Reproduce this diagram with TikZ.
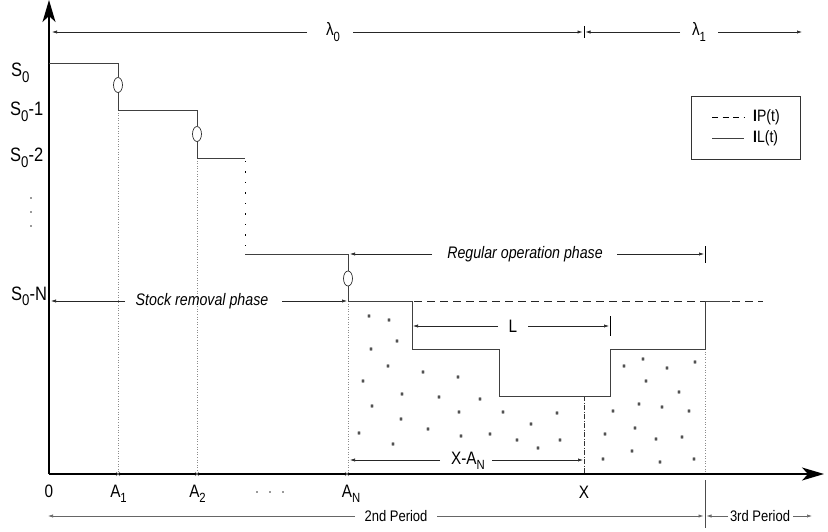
\documentclass[tikz,border=0pt]{standalone}
\usepackage{fontspec}
\setmainfont{Liberation Sans}[FakeStretch=0.85]
\usetikzlibrary{arrows.meta}
\newcommand\lowsub[1]{\raisebox{-0.3em}{\scalebox{0.74}{#1}}}
\newcommand\bigsub[1]{\raisebox{-0.28em}{\scalebox{0.8}{#1}}}
\begin{document}
\begin{tikzpicture}[x=1pt,y=-1pt,
  dim/.style={-{Latex[length=5pt,width=3.2pt]}, line width=0.6pt, draw=black!85},
  perarrow/.style={-{Latex[length=5pt,width=3.2pt]}, line width=0.6pt, draw=black!60},
  stepline/.style={line width=0.9pt, draw=black!75},
  ipline/.style={line width=0.9pt, draw=black!85, dash pattern=on 8pt off 5pt},
  guide/.style={line width=0.6pt, draw=black!45, dash pattern=on 1pt off 1.6pt},
  axis/.style={line width=1.4pt, draw=black, -{Stealth[length=22pt,width=13pt,inset=6pt]}},
  axislabel/.style={font=\fontsize{18}{19}\selectfont, inner sep=0pt},
  slabel/.style={font=\fontsize{19.4}{20}\selectfont, inner sep=0pt, anchor=base west},
  phase/.style={font=\fontsize{16.7}{17}\selectfont\itshape, inner sep=0pt},
  period/.style={font=\fontsize{15.3}{16}\selectfont, inner sep=0pt},
  legtext/.style={font=\fontsize{16.5}{17}\selectfont, inner sep=0pt, anchor=west},
  oval/.style={line width=0.7pt, draw=black!80},
  ast/.pic={\draw[black!68, line width=0.9pt] (-1.7,0) -- (1.7,0) (-0.9,-1.5) -- (0.9,1.5) (-0.9,1.5) -- (0.9,-1.5);},
  xtick/.pic={\draw[black!55, line width=0.5pt] (-2,-2) -- (2,2) (-2,2) -- (2,-2);}
]
\useasboundingbox (0,0) rectangle (828,532);

% stars
\foreach \p in {(369,316),(389,320),(397,341),(371,349),(388,366),(423,372),(363,381),(458,377),
  (402,394),(439,397),(372,406),(459,412),(401,419),(428,429),(359,433),(461,436),(393,444),
  (480,399),(503,412),(557,413),(531,424),(490,434),(517,440),(560,440),(538,448),
  (643,359),(624,366),(667,368),(695,362),(646,381),(679,392),(639,404),(662,407),(613,411),
  (689,411),(635,428),(605,434),(656,439),(682,437),(632,451),(603,459),(660,462),(694,459)}
  \pic at \p {ast};

% guides
\draw[guide] (118,110) -- (118,474);
\draw[guide] (197,158) -- (197,474);
\draw[guide] (348,301) -- (348,474);
\draw[guide] (705,349) -- (705,474);
\draw[line width=0.6pt, draw=black!80, dash pattern=on 5pt off 1.5pt on 1pt off 1.5pt] (584,396) -- (584,474);

% axes
\draw[axis] (49,474) -- (49,0);
\draw[axis] (49,474) -- (824,474);

% step curve L(t)
\draw[stepline] (49,63) -- (118,63) -- (118,77.5);
\draw[stepline] (118,92.5) -- (118,110) -- (197,110) -- (197,126.5);
\draw[stepline] (197,141.5) -- (197,158) -- (245,158);
\draw[black, line width=1pt, dash pattern=on 1.2pt off 9.3pt] (245,161) -- (245,254);
\draw[stepline] (245,254) -- (348,254) -- (348,271);
\draw[stepline] (348,286) -- (348,301) -- (412,301) -- (412,349) -- (499,349) -- (499,396)
  -- (610,396) -- (610,349) -- (705,349) -- (705,301) -- (730,301);
\draw[oval] (118,85) ellipse [x radius=4.5, y radius=7.5];
\draw[oval] (197,134) ellipse [x radius=4.5, y radius=7.5];
\draw[oval] (348,278.5) ellipse [x radius=4.5, y radius=7.5];

% P(t)
\draw[ipline] (414,301) -- (705,301);
\draw[ipline] (732,301) -- (763,301);

% x ticks
\pic at (118,474) {xtick};
\pic at (197,474) {xtick};
\pic at (347,474) {xtick};

% y labels
\node[slabel] (s0) at (11,77) {S\bigsub{0}};
\node[slabel] (s1) at (10,116) {S\bigsub{0}-1};
\node[slabel] (s2) at (10,162) {S\bigsub{0}-2};
\node[slabel] (sn) at (11,300) {S\bigsub{0}-N};
\foreach \yy in {198,212,226} \fill[black!80] (31,\yy) circle [radius=0.8];

% x labels
\node[axislabel, anchor=base] (o) at (49,497) {0};
\node[axislabel, anchor=base] (a1) at (118.5,497) {A\lowsub{1}};
\node[axislabel, anchor=base] (a2) at (197.5,497) {A\lowsub{2}};
\node[axislabel, anchor=base] (an) at (351,497) {A\lowsub{N}};
\node[axislabel, anchor=base] (xl) at (584,498) {X};
\foreach \xx in {257,270,283} \fill[black!80] (\xx,492) circle [radius=0.9];

% lambda arrows
\node[axislabel] (lam0) at (333,32) {λ\lowsub{0}};
\draw[dim] (307,32) -- (52,32);
\draw[dim] (353,32) -- (582.5,32);
\draw[line width=0.6pt] (584,26) -- (584,38);
\node[axislabel] (lam1) at (699,32) {λ\lowsub{1}};
\draw[dim] (680,32) -- (585.5,32);
\draw[dim] (718,32) -- (802,32);

% regular operation phase
\node[phase] (reg) at (525,254) {Regular operation phase};
\draw[dim] (432,254) -- (350,254);
\draw[dim] (617,254) -- (704,254);
\draw[line width=0.6pt] (705,246) -- (705,263);

% stock removal phase
\node[phase] (stock) at (202,301) {Stock removal phase};
\draw[dim] (125,301) -- (51,301);
\draw[dim] (282,301) -- (347,301);

% L
\node[axislabel] (ll) at (513,326) {L};
\draw[dim] (498,326) -- (413,326);
\draw[dim] (528,326) -- (609,326);
\draw[line width=0.6pt] (610,316) -- (610,336);

% X - A_N
\node[axislabel] (xan) at (468,461) {X-A\lowsub{N}};
\draw[dim] (440,460) -- (350,460);
\draw[dim] (492,460) -- (583,460);

% periods
\node[period] (p2) at (396,516) {2nd Period};
\draw[perarrow] (355,516) -- (48,516);
\draw[perarrow] (437,516) -- (703.5,516);
\draw[line width=0.8pt, draw=black!70] (705,480) -- (705,528);
\node[period] (p3) at (760,516) {3rd Period};
\draw[perarrow] (728,516) -- (706.5,516);
\draw[perarrow] (793,516) -- (812,516);

% legend
\draw[line width=0.7pt, draw=black!80] (691,96) rectangle (800,159);
\draw[line width=0.8pt, dash pattern=on 6pt off 4.5pt] (712,117) -- (745,117);
\draw[line width=0.8pt, draw=black!75] (712,138) -- (744,138);
\node[legtext] (lp) at (753,117) {\textbf{I}P(t)};
\node[legtext] (lq) at (753,138) {\textbf{I}L(t)};
\end{tikzpicture}
\end{document}
